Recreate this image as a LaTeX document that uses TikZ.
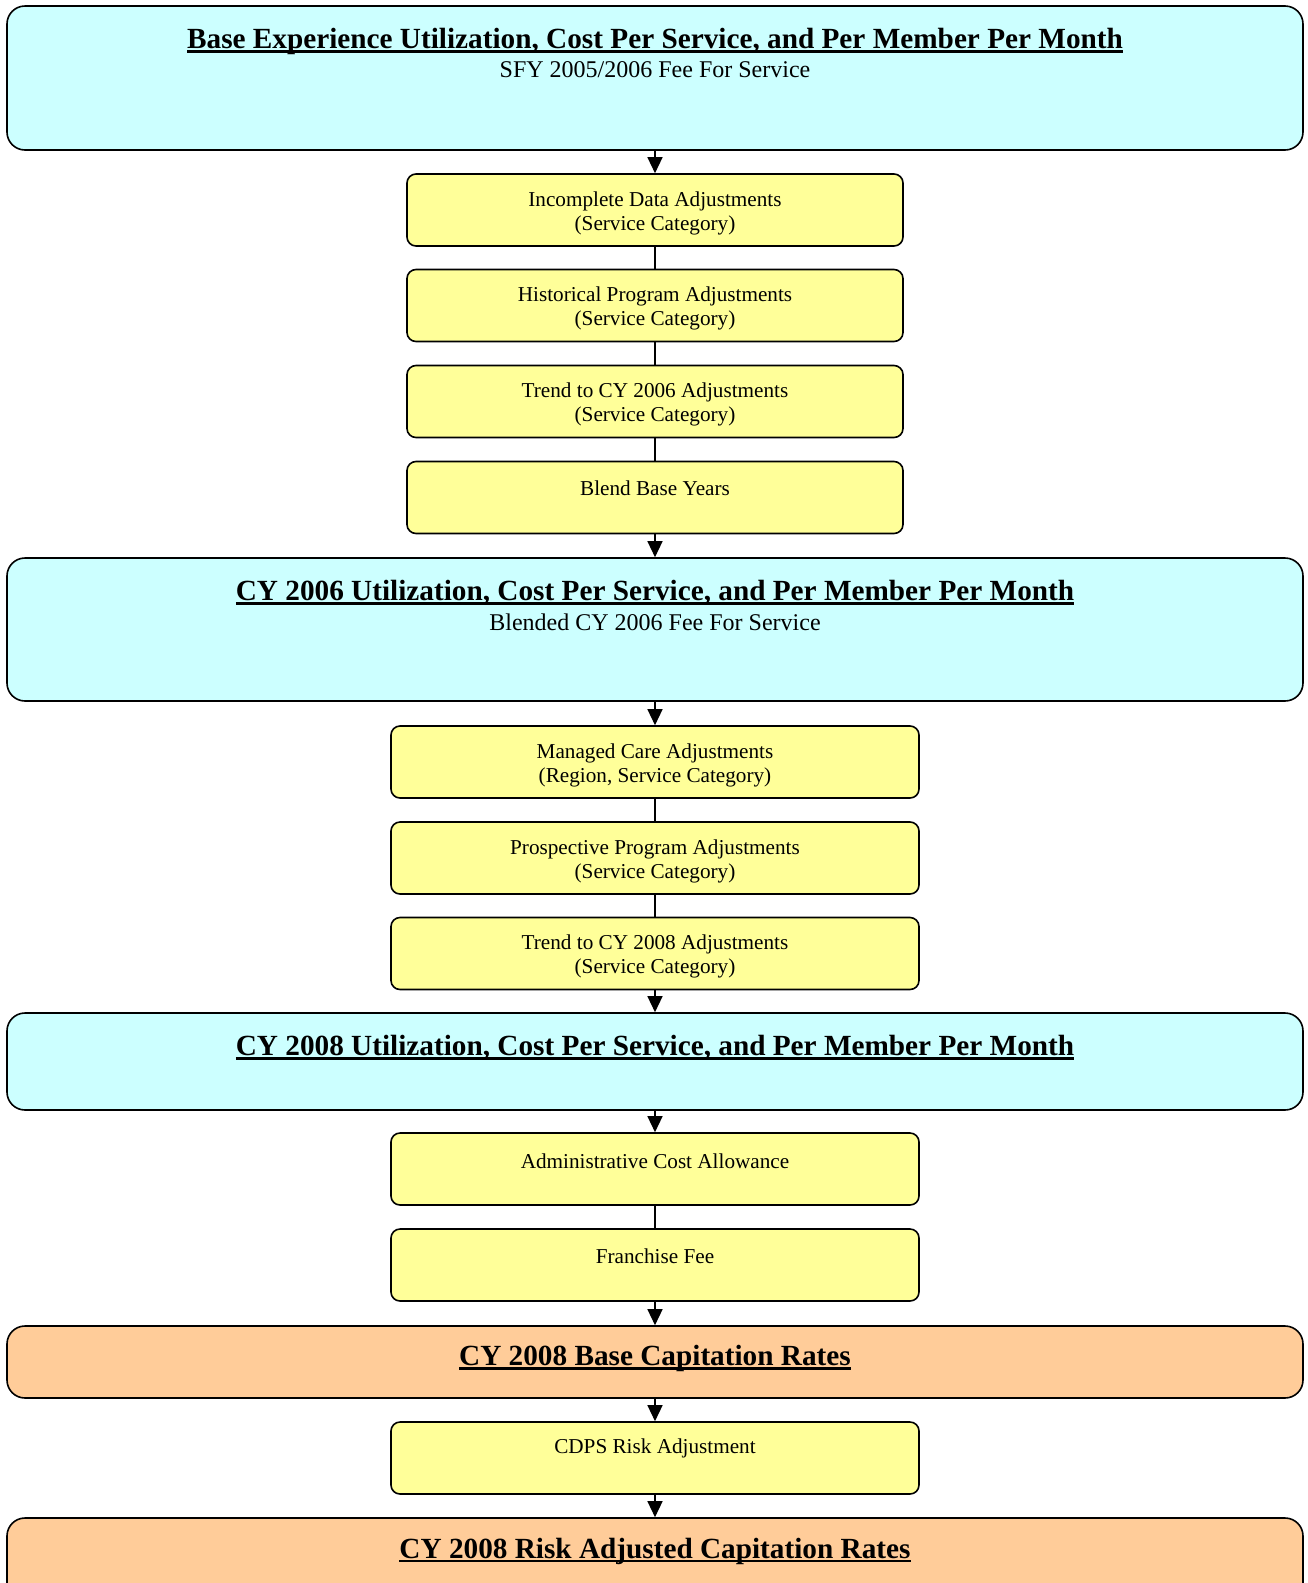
\documentclass[tikz,border=0pt]{standalone}
\usepackage{fontspec}
\setmainfont{Liberation Serif}
\usetikzlibrary{arrows.meta}
\definecolor{cyanfill}{HTML}{CCFFFF}
\definecolor{yellowfill}{HTML}{FFFF99}
\definecolor{orangefill}{HTML}{FFCC99}
\newcommand\ulc[1]{\setbox0=\hbox{#1}\rlap{\rule[-0.15em]{\wd0}{0.1em}}\box0}
\tikzset{
  bigbox/.style={draw, line width=1.6pt, rounded corners=18pt, fill=cyanfill, minimum width=1296pt, inner sep=0pt},
  orbox/.style={bigbox, fill=orangefill},
  ybox/.style={draw, line width=1.6pt, rounded corners=9pt, fill=yellowfill, minimum height=72pt, inner sep=0pt},
  ttl/.style={inner sep=0pt, font=\fontsize{29.25}{34}\selectfont\bfseries},
  sub/.style={inner sep=0pt, font=\fontsize{24}{28}\selectfont},
  ytxt/.style={inner sep=0pt, align=center, font=\fontsize{21.2}{24}\selectfont},
  arr/.style={line width=1.3pt, -{Triangle[length=16pt,width=15pt]}},
  lnk/.style={line width=1.3pt}
}
\begin{document}
\begin{tikzpicture}[x=1pt,y=-1pt]
\clip (0,0) rectangle (1308,1583);
% boxes
\node[bigbox, minimum height=144pt] (A) at (655,78) {};
\node[ybox, minimum width=496pt] (Y1) at (655,210) {};
\node[ybox, minimum width=496pt] (Y2) at (655,305.5) {};
\node[ybox, minimum width=496pt] (Y3) at (655,401.5) {};
\node[ybox, minimum width=496pt] (Y4) at (655,497.5) {};
\node[bigbox, minimum height=143pt] (B) at (655,629.5) {};
\node[ybox, minimum width=528pt] (Y5) at (655,762) {};
\node[ybox, minimum width=528pt] (Y6) at (655,858) {};
\node[ybox, minimum width=528pt] (Y7) at (655,953.5) {};
\node[bigbox, minimum height=97pt] (C) at (655,1061.5) {};
\node[ybox, minimum width=528pt] (Y8) at (655,1169) {};
\node[ybox, minimum width=528pt] (Y9) at (655,1265) {};
\node[orbox, minimum height=72pt] (D) at (655,1362) {};
\node[ybox, minimum width=528pt] (Y10) at (655,1458) {};
\node[orbox, minimum height=142pt] (E) at (655,1589) {};
% texts
\node[ttl] (At) at (655,41.4) {\ulc{Base Experience Utilization, Cost Per Service, and Per Member Per Month}};
\node[sub] (As) at (655,69.6) {SFY 2005/2006 Fee For Service};
\node[ytxt] (Y1t) at (655,213) {Incomplete Data Adjustments\\(Service Category)};
\node[ytxt] (Y2t) at (655,308.5) {Historical Program Adjustments\\(Service Category)};
\node[ytxt] (Y3t) at (655,404.5) {Trend to CY 2006 Adjustments\\(Service Category)};
\node[ytxt] (Y4t) at (655,488.5) {Blend Base Years};
\node[ttl] (Bt) at (655,593) {\ulc{CY 2006 Utilization, Cost Per Service, and Per Member Per Month}};
\node[sub] (Bs) at (655,622) {Blended CY 2006 Fee For Service};
\node[ytxt] (Y5t) at (655,765) {Managed Care Adjustments\\(Region, Service Category)};
\node[ytxt] (Y6t) at (655,861) {Prospective Program Adjustments\\(Service Category)};
\node[ytxt] (Y7t) at (655,956.5) {Trend to CY 2008 Adjustments\\(Service Category)};
\node[ttl] (Ct) at (655,1048) {\ulc{CY 2008 Utilization, Cost Per Service, and Per Member Per Month}};
\node[ytxt] (Y8t) at (655,1161) {Administrative Cost Allowance};
\node[ytxt] (Y9t) at (655,1256.5) {Franchise Fee};
\node[ttl] (Dt) at (655,1358.5) {\ulc{CY 2008 Base Capitation Rates}};
\node[ytxt] (Y10t) at (655,1448) {CDPS Risk Adjustment};
\node[ttl] (Et) at (655,1551) {\ulc{CY 2008 Risk Adjusted Capitation Rates}};
% connectors
\draw[arr] (A.south) -- (Y1.north);
\draw[lnk] (Y1.south) -- (Y2.north);
\draw[lnk] (Y2.south) -- (Y3.north);
\draw[lnk] (Y3.south) -- (Y4.north);
\draw[arr] (Y4.south) -- (B.north);
\draw[arr] (B.south) -- (Y5.north);
\draw[lnk] (Y5.south) -- (Y6.north);
\draw[lnk] (Y6.south) -- (Y7.north);
\draw[arr] (Y7.south) -- (C.north);
\draw[arr] (C.south) -- (Y8.north);
\draw[lnk] (Y8.south) -- (Y9.north);
\draw[arr] (Y9.south) -- (D.north);
\draw[arr] (D.south) -- (Y10.north);
\draw[arr] (Y10.south) -- (E.north);
\end{tikzpicture}
\end{document}
